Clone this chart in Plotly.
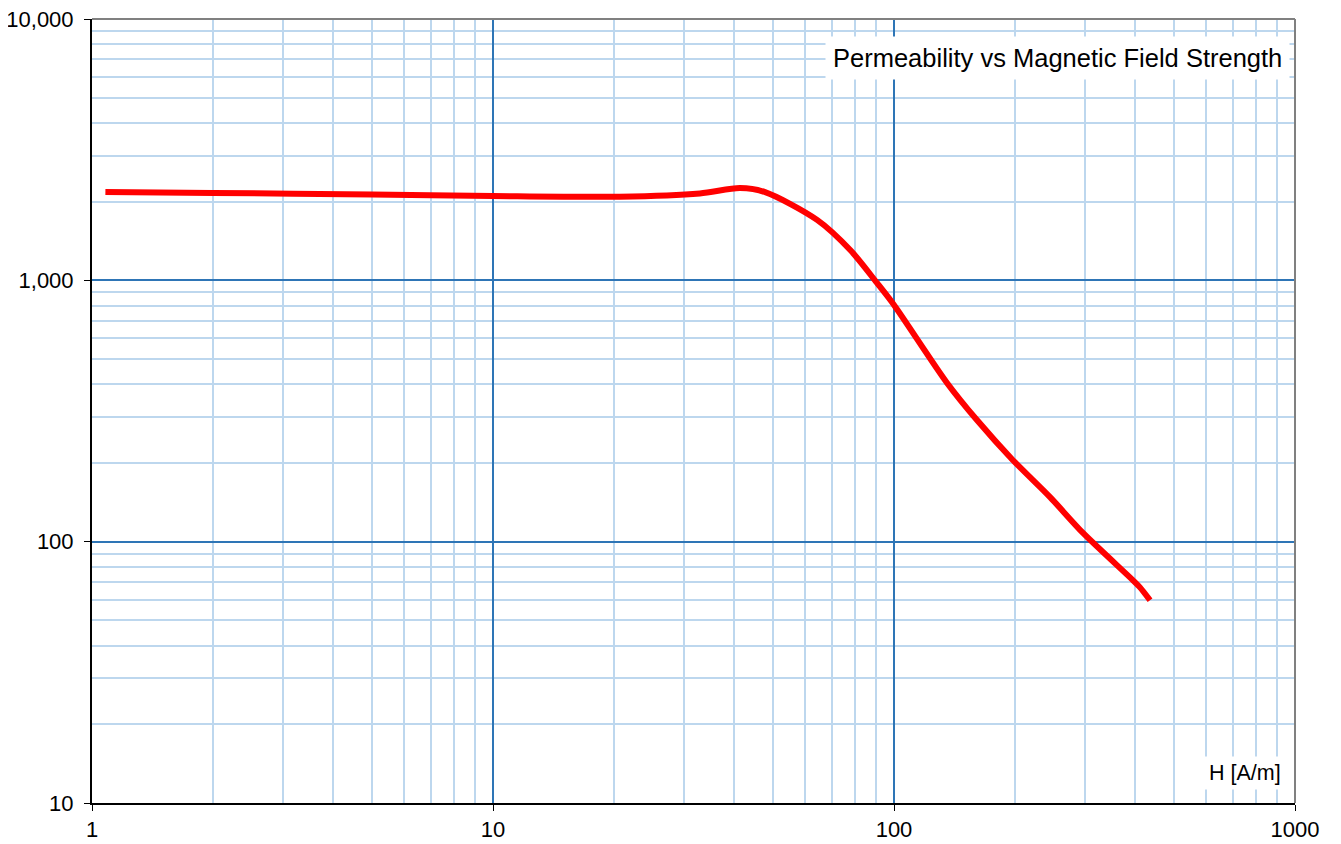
import plotly.graph_objects as go

# Data (H in A/m, relative permeability)
h_values = [1.08, 2, 5, 10, 20.7, 32.8, 41.3, 47.7, 64.3, 78, 90.7, 100,
            135.6, 161, 198, 245, 296, 394, 410, 435]
mu_values = [2178, 2160, 2130, 2102, 2090, 2150, 2254, 2175, 1703, 1300, 977, 805,
             405, 292, 205, 148, 108, 71.3, 67, 59.7]

x_tickvals = [1, 10, 100, 1000]
x_ticktext = ["1", "10", "100", "1000"]
y_tickvals = [10, 100, 1000, 10000]
y_ticktext = ["10", "100", "1,000", "10,000"]

title_text = "Permeability vs Magnetic Field Strength"
x_label = "H [A/m]"

major_grid = "#2E75B6"
minor_grid = "#BDD7EE"
font_family = "Liberation Sans, Arial, sans-serif"

fig = go.Figure()
fig.add_trace(go.Scatter(
    x=h_values, y=mu_values, mode="lines",
    line=dict(color="#FF0000", width=6, shape="spline", smoothing=0.8),
    showlegend=False, hoverinfo="x+y",
))

axis_common = dict(
    type="log", automargin=False,
    showline=True, linecolor="black", linewidth=2,
    ticks="outside", ticklen=6, tickcolor="black", tickwidth=1,
    showgrid=True, gridcolor=major_grid, gridwidth=1.5,
    minor=dict(dtick="D1", showgrid=True, gridcolor=minor_grid, gridwidth=1.5, ticks=""),
    tickfont=dict(family=font_family, size=22, color="black"),
    ticklabeloverflow="allow",
    zeroline=False,
)

fig.update_xaxes(range=[0, 3], tickvals=x_tickvals, ticktext=x_ticktext, **axis_common)
fig.update_yaxes(range=[1, 4], tickvals=y_tickvals, ticktext=y_ticktext,
                 ticklabelstandoff=6, **axis_common)

# Grey top and right border of plot area
fig.add_shape(type="line", xref="x domain", yref="y domain", x0=0, x1=1, y0=1, y1=1,
              line=dict(color="#808080", width=2))
fig.add_shape(type="line", xref="x domain", yref="y domain", x0=1, x1=1, y0=0, y1=1,
              line=dict(color="#808080", width=2))

fig.add_annotation(
    text=title_text, xref="x domain", yref="y domain", x=0.996, y=0.95,
    xanchor="right", yanchor="middle", showarrow=False,
    font=dict(family=font_family, size=25.5, color="black"),
    bgcolor="white", borderpad=7,
)
fig.add_annotation(
    text=x_label, xref="x domain", yref="y domain", x=0.9925, y=0.038,
    xanchor="right", yanchor="middle", showarrow=False,
    font=dict(family=font_family, size=21.5, color="black"),
    bgcolor="white", borderpad=4,
)

fig.update_layout(
    width=1341, height=844,
    margin=dict(l=84, r=54, t=11, b=49),
    paper_bgcolor="white", plot_bgcolor="white",
    font=dict(family=font_family),
)

fig.write_html("out.html")
